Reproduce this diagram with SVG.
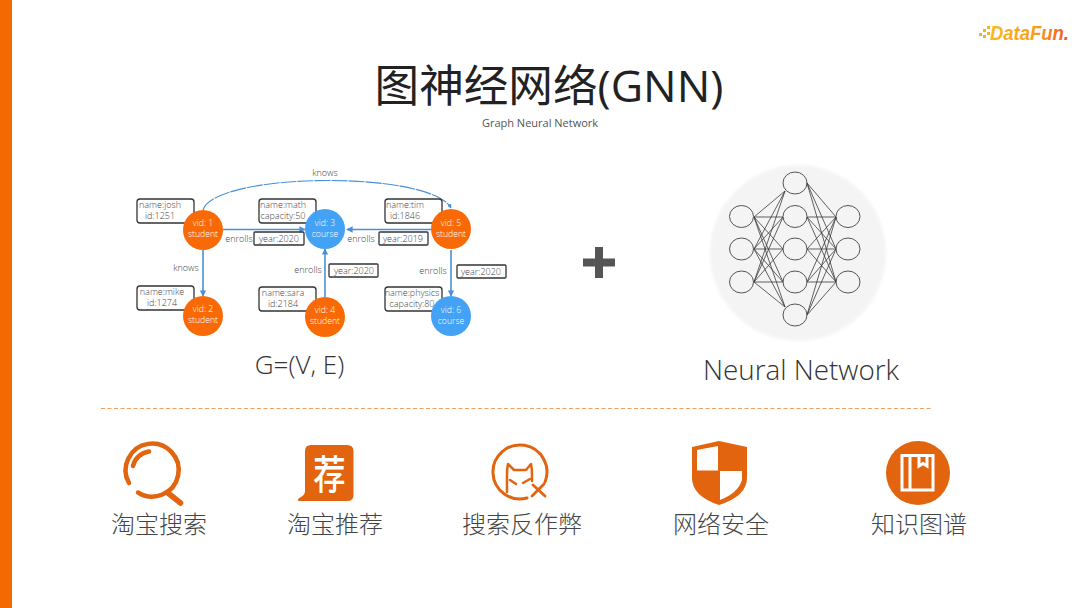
<svg xmlns="http://www.w3.org/2000/svg" width="1080" height="608" viewBox="0 0 1080 608">
<defs>
<style>
.t{font-family:"Open Sans","Noto Sans CJK SC",sans-serif}
.cjk{font-family:"Noto Sans CJK SC","Open Sans",sans-serif;font-weight:300;fill:#444;text-anchor:middle}
.lab{font-family:"Open Sans",sans-serif;font-size:9px;font-weight:300;fill:#444;text-anchor:middle}
.nt{font-family:"Open Sans",sans-serif;font-size:8.700px;font-weight:300;fill:#fff;text-anchor:middle}
.box{fill:#fff;stroke:#333;stroke-width:1.300}
.edge{fill:none;stroke:#4a90d6;stroke-width:1.600}
.org{fill:#f96a06}.blu{fill:#43a2f5}
.ic{fill:#e2640f}
.ln{fill:none;stroke:#e2640f;stroke-linecap:round;stroke-linejoin:round}
.nn{fill:#f4f4f4}
.nc{fill:none;stroke:#555;stroke-width:1}
.nl{stroke:#3a3a3a;stroke-width:.8}
</style>
<marker id="a" markerWidth="4" markerHeight="4" refX="3.500" refY="2" orient="auto"><path d="M0 0L4 2L0 4z" fill="#4a90d6"/></marker>
<filter id="blur" x="-10%" y="-10%" width="120%" height="120%"><feGaussianBlur stdDeviation="1.500"/></filter>
<linearGradient id="lg" x1="0" x2="1" y1="0" y2="0"><stop offset="0" stop-color="#fbb917"/><stop offset=".6" stop-color="#f99a1c"/><stop offset="1" stop-color="#f4521e"/></linearGradient>
</defs>
<rect width="1080" height="608" fill="#fff"/>
<rect id="sidebar" x="0" y="0" width="12" height="608" fill="#f26a00"/>
<g id="logo">
<g fill="#f9b21d"><rect x="979" y="33" width="3" height="3"/><rect x="983" y="29" width="3" height="3"/><rect x="983" y="35" width="3" height="3"/><rect x="987" y="26" width="3" height="3"/><rect x="987" y="32" width="3" height="3"/></g>
<text x="990" y="40" font-family="Liberation Sans,sans-serif" font-size="21" font-weight="700" font-style="italic" fill="url(#lg)" textLength="79" lengthAdjust="spacingAndGlyphs">DataFun.</text>
</g>
<text id="title" x="549" y="102" class="t" font-size="44.600" fill="#222" text-anchor="middle">图神经网络(GNN)</text>
<text id="subtitle" x="540" y="127" class="t" font-size="11" fill="#555" text-anchor="middle">Graph Neural Network</text>
<g id="connectors">
<path class="edge" style="stroke-width:1.100" d="M203 210C215 172 430 170 451 208" stroke-dasharray="16 1" marker-end="url(#a)"/>
<path class="edge" d="M223 229.500H305" marker-end="url(#a)"/>
<path class="edge" d="M431 229.500H347" marker-end="url(#a)"/>
<path class="edge" d="M203 250V296" marker-end="url(#a)"/>
<path class="edge" d="M325 297V249" marker-end="url(#a)"/>
<path class="edge" d="M451 250V296" marker-end="url(#a)"/>
</g>
<g id="edge-labels">
<text class="lab" x="325" y="176">knows</text>
<text class="lab" x="239" y="242">enrolls</text>
<text class="lab" x="361" y="242">enrolls</text>
<text class="lab" x="186" y="271">knows</text>
<text class="lab" x="308" y="273">enrolls</text>
<text class="lab" x="433" y="274">enrolls</text>
</g>
<g id="box-joshua"><rect class="box" x="137" y="199" width="57" height="24" rx="3"/><text class="lab" x="160" y="208">name:josh</text><text class="lab" x="160" y="219">id:1251</text></g>
<g id="box-math"><rect class="box" x="259" y="199" width="57" height="24" rx="3"/><text class="lab" x="283" y="208">name:math</text><text class="lab" x="283" y="219">capacity:50</text></g>
<g id="box-tim"><rect class="box" x="385" y="199" width="57" height="24" rx="3"/><text class="lab" x="405" y="208">name:tim</text><text class="lab" x="405" y="219">id:1846</text></g>
<g id="box-mike"><rect class="box" x="137" y="286" width="57" height="24" rx="3"/><text class="lab" x="162" y="295">name:mike</text><text class="lab" x="162" y="306">id:1274</text></g>
<g id="box-sara"><rect class="box" x="259" y="287" width="57" height="24" rx="3"/><text class="lab" x="283" y="296">name:sara</text><text class="lab" x="283" y="307">id:2184</text></g>
<g id="box-physics"><rect class="box" x="385" y="287" width="57" height="24" rx="3"/><text class="lab" x="412" y="296">name:physics</text><text class="lab" x="412" y="307">capacity:80</text></g>
<g id="box-y1"><rect class="box" x="254" y="232" width="50" height="13" rx="1"/><text class="lab" x="279" y="242">year:2020</text></g>
<g id="box-y2"><rect class="box" x="379" y="232" width="49" height="13" rx="1"/><text class="lab" x="403" y="242">year:2019</text></g>
<g id="box-y3"><rect class="box" x="329" y="264" width="49" height="13" rx="1"/><text class="lab" x="354" y="274">year:2020</text></g>
<g id="box-y4"><rect class="box" x="457" y="265" width="49" height="13" rx="1"/><text class="lab" x="481" y="275">year:2020</text></g>
<g id="v1"><circle class="org" cx="203" cy="230" r="20"/><text class="nt" x="203" y="226">vid: 1</text><text class="nt" x="203" y="237">student</text></g>
<g id="v2"><circle class="org" cx="203" cy="316" r="20"/><text class="nt" x="203" y="312">vid: 2</text><text class="nt" x="203" y="323">student</text></g>
<g id="v3"><circle class="blu" cx="325" cy="229" r="20"/><text class="nt" x="325" y="226">vid: 3</text><text class="nt" x="325" y="237">course</text></g>
<g id="v4"><circle class="org" cx="325" cy="317" r="20"/><text class="nt" x="325" y="313">vid: 4</text><text class="nt" x="325" y="324">student</text></g>
<g id="v5"><circle class="org" cx="451" cy="229" r="20"/><text class="nt" x="451" y="226">vid: 5</text><text class="nt" x="451" y="237">student</text></g>
<g id="v6"><circle class="blu" cx="451" cy="316" r="20"/><text class="nt" x="451" y="313">vid: 6</text><text class="nt" x="451" y="324">course</text></g>
<text id="g-eq" x="299.500" y="374" class="t" font-size="26" font-weight="300" fill="#333" text-anchor="middle">G=(V, E)</text>
<path id="plus" d="M595 247h8v11.500h12v8h-12v11.500h-8v-11.500h-12v-8h12z" fill="#555"/>
<g id="neural-network">
<circle class="nn" cx="798" cy="253" r="88" filter="url(#blur)"/>
<g>
<path class="nl" fill="none" d="M754 217L785 191M754 217L783 217M754 217L783 249M754 217L783 282M754 217L785 307M754 249L785 191M754 249L783 217M754 249L783 249M754 249L783 282M754 249L785 307M754 282L785 191M754 282L783 217M754 282L783 249M754 282L783 282M754 282L785 307M807 183L836 217M807 183L836 249M807 183L836 282M807 217L836 217M807 217L836 249M807 217L836 282M807 249L836 217M807 249L836 249M807 249L836 282M807 282L836 217M807 282L836 249M807 282L836 282M807 315L836 217M807 315L836 249M807 315L836 282"/>
<g class="nc">
<ellipse cx="741.500" cy="216.500" rx="12" ry="11"/><ellipse cx="741.500" cy="249" rx="12" ry="11"/><ellipse cx="741.500" cy="282" rx="12" ry="11"/>
<ellipse cx="795" cy="183" rx="12" ry="11"/><ellipse cx="795" cy="216.500" rx="12" ry="11"/><ellipse cx="795" cy="249" rx="12" ry="11"/><ellipse cx="795" cy="282" rx="12" ry="11"/><ellipse cx="795" cy="315" rx="12" ry="11"/>
<ellipse cx="848" cy="216.500" rx="12" ry="11"/><ellipse cx="848" cy="249" rx="12" ry="11"/><ellipse cx="848" cy="282" rx="12" ry="11"/>
</g>
</g>
</g>
<text id="nn-label" x="801" y="380" class="t" font-size="27.800" font-weight="300" fill="#333" text-anchor="middle">Neural Network</text>
<line id="divider" x1="101" y1="408.500" x2="932" y2="408.500" stroke="#f0a060" stroke-width="1.200" stroke-dasharray="4 2.500"/>
<g id="search">
<path class="ln" stroke-width="4.500" d="M129 483A26.500 26.500 0 1 1 138 492.500"/>
<path class="ln" stroke-width="4.500" d="M133 466A19 19 0 0 1 149 451.500"/>
<path class="ln" stroke-width="5.500" d="M168 493L180.500 503"/>
<text class="cjk" x="159" y="533" font-size="24">淘宝搜索</text>
</g>
<g id="recommend">
<path class="ic" d="M311 445H347Q353.500 445 353.500 451V495Q353.500 501 347 501H299Q296 500 300 497.500Q305 495 305 491V451Q305 445 311 445z"/>
<text transform="translate(329.500 488.500) scale(.9 1.120)" font-size="36" font-family="Noto Sans CJK SC,sans-serif" font-weight="500" fill="#fff" text-anchor="middle">荐</text>
<text class="cjk" x="335" y="533" font-size="24">淘宝推荐</text>
</g>
<g id="antifraud">
<path class="ln" stroke-width="3" d="M527 498A27 27 0 1 1 545 482"/>
<path class="ln" stroke-width="2.500" d="M507 492V475Q507 468 508 464L514 470H526L531 464Q532 468 532 475V481"/>
<path class="ln" stroke-width="2.500" d="M510 480L516 484M530 479L523 483"/>
<path class="ln" stroke-width="2.800" d="M533 485L545 496M544 484L532 496"/>
<text class="cjk" x="522" y="533" font-size="24">搜索反作弊</text>
</g>
<g id="security">
<path class="ic" d="M719 441L747 447V478Q747 496 719 505Q692 496 692 478V447z"/>
<path fill="#fff" d="M718 446V470.500H697V450zM720 471H742V480Q738 493 720 500z"/>
<text class="cjk" x="721" y="533" font-size="24">网络安全</text>
</g>
<g id="knowledge">
<circle class="ic" cx="918" cy="473" r="32"/>
<path fill="none" stroke="#fff" stroke-width="3" d="M902 455.500H933V490H902zM910 455.500V490M919 455.500V466L923 463.500L927 466V455.500"/>
<text class="cjk" x="919" y="533" font-size="24">知识图谱</text>
</g>
</svg>
